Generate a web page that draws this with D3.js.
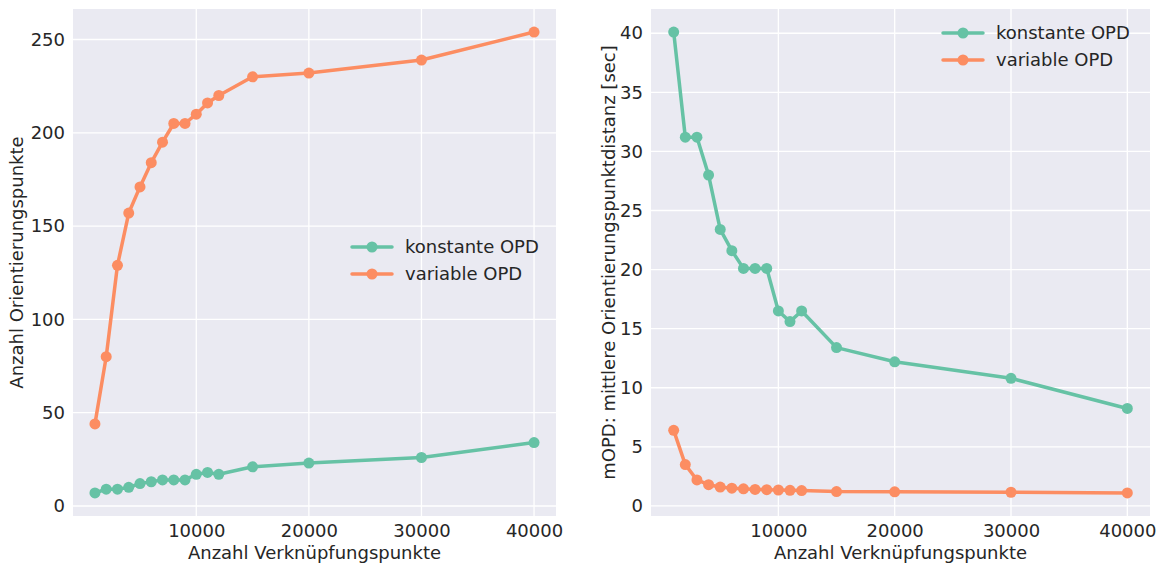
<!DOCTYPE html>
<html><head><meta charset="utf-8">
<script src="https://cdn.jsdelivr.net/npm/d3@7"></script>
<style>
html,body{margin:0;padding:0;background:#fff;}
svg text{font-family:"DejaVu Sans",sans-serif;fill:#262626;}
</style></head>
<body><svg id="c" width="1158" height="567"></svg>
<script>
const xValues = [1000,2000,3000,4000,5000,6000,7000,8000,9000,10000,11000,12000,15000,20000,30000,40000];
const seriesNames = ["konstante OPD","variable OPD"];
const colors = ["#66c2a5","#fc8d62"];
const countKonstant = [7,9,9,10,12,13,14,14,14,17,18,17,21,23,26,34];
const countVariable = [44,80,129,157,171,184,195,205,205,210,216,220,230,232,239,254];
const distKonstant = [40.1,31.2,31.2,28.0,23.4,21.6,20.1,20.1,20.1,16.5,15.6,16.5,13.4,12.2,10.8,8.25];
const distVariable = [6.4,3.5,2.2,1.8,1.6,1.5,1.45,1.4,1.38,1.35,1.32,1.3,1.22,1.2,1.16,1.1];
const xTicks = [10000,20000,30000,40000];
const yTicksLeft = [0,50,100,150,200,250];
const yTicksRight = [0,5,10,15,20,25,30,35,40];
const xLabel = "Anzahl Verknüpfungspunkte";
const yLabelLeft = "Anzahl Orientierungspunkte";
const yLabelRight = "mOPD: mittlere Orientierungspunktdistanz [sec]";

const svg = d3.select("#c");
const FS = 18;

function padDomain(vals){
  const mn = d3.min(vals), mx = d3.max(vals), m = (mx-mn)*0.05;
  return [mn-m, mx+m];
}

function panel(cfg){
  const {x0,x1,y0,y1,series,yTicks,yLabel,yLabelX,legend} = cfg;
  const g = svg.append("g");
  const x = d3.scaleLinear().domain(padDomain(xValues)).range([x0,x1]);
  const allY = series.flat();
  const y = d3.scaleLinear().domain(padDomain(allY)).range([y1,y0]);
  g.append("rect").attr("x",x0).attr("y",y0).attr("width",x1-x0).attr("height",y1-y0).attr("fill","#eaeaf2");
  g.append("g").selectAll("line").data(xTicks).join("line")
    .attr("x1",d=>x(d)).attr("x2",d=>x(d)).attr("y1",y0).attr("y2",y1)
    .attr("stroke","#fff").attr("stroke-width",1.3);
  g.append("g").selectAll("line").data(yTicks).join("line")
    .attr("y1",d=>y(d)).attr("y2",d=>y(d)).attr("x1",x0).attr("x2",x1)
    .attr("stroke","#fff").attr("stroke-width",1.3);
  const xa = g.append("g").attr("transform",`translate(0,${y1})`)
    .call(d3.axisBottom(x).tickValues(xTicks).tickSize(0).tickPadding(8).tickFormat(d3.format("d")));
  xa.select(".domain").remove();
  xa.selectAll("text").attr("font-size",FS).attr("font-family","DejaVu Sans").attr("fill","#262626");
  const ya = g.append("g").attr("transform",`translate(${x0},0)`)
    .call(d3.axisLeft(y).tickValues(yTicks).tickSize(0).tickPadding(8).tickFormat(d3.format("d")));
  ya.select(".domain").remove();
  ya.selectAll("text").attr("font-size",FS).attr("font-family","DejaVu Sans").attr("fill","#262626");
  g.append("text").attr("x",(x0+x1)/2).attr("y",559).attr("text-anchor","middle").attr("font-size",FS).text(xLabel);
  g.append("text").attr("transform",`translate(${yLabelX},${(y0+y1)/2}) rotate(-90)`)
    .attr("text-anchor","middle").attr("font-size",FS).text(yLabel);
  const line = d3.line().x((d,i)=>x(xValues[i])).y(d=>y(d));
  series.forEach((s,k)=>{
    g.append("path").datum(s).attr("d",line).attr("fill","none")
      .attr("stroke",colors[k]).attr("stroke-width",3.5).attr("stroke-linejoin","round").attr("stroke-linecap","round");
    g.append("g").selectAll("circle").data(s).join("circle")
      .attr("cx",(d,i)=>x(xValues[i])).attr("cy",d=>y(d)).attr("r",5.5).attr("fill",colors[k]);
  });
  const lg = g.append("g");
  seriesNames.forEach((n,k)=>{
    const yy = legend.y + k*27;
    lg.append("line").attr("x1",legend.x).attr("x2",legend.x+40).attr("y1",yy).attr("y2",yy)
      .attr("stroke",colors[k]).attr("stroke-width",3.5).attr("stroke-linecap","round");
    lg.append("circle").attr("cx",legend.x+20).attr("cy",yy).attr("r",5.5).attr("fill",colors[k]);
    lg.append("text").attr("x",legend.x+53).attr("y",yy).attr("dy","0.35em").attr("font-size",FS).text(n);
  });
}

panel({x0:73,x1:556,y0:9,y1:516,series:[countKonstant,countVariable],yTicks:yTicksLeft,
  yLabel:yLabelLeft,yLabelX:23,legend:{x:352,y:247}});
panel({x0:651,x1:1150,y0:9,y1:516,series:[distKonstant,distVariable],yTicks:yTicksRight,
  yLabel:yLabelRight,yLabelX:615,legend:{x:943,y:33}});
</script></body></html>
